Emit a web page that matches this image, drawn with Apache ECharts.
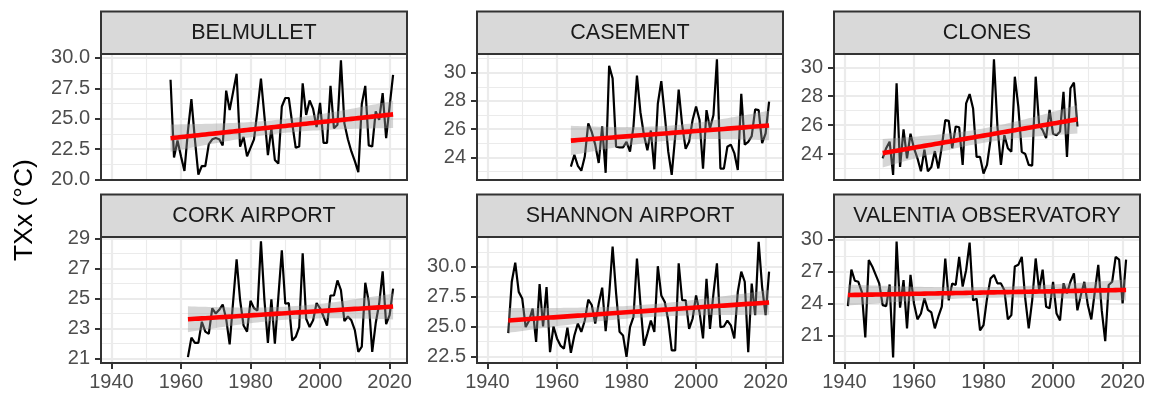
<!DOCTYPE html>
<html>
<head>
<meta charset="utf-8">
<script src="https://cdn.jsdelivr.net/npm/echarts@6/dist/echarts.min.js"></script>
<style>
  html, body { margin: 0; padding: 0; background: #fff; }
  #chart { width: 1151px; height: 394px; }
</style>
</head>
<body>
<div id="chart"></div>
<script>
const stations = ['BELMULLET', 'CASEMENT', 'CLONES', 'CORK AIRPORT', 'SHANNON AIRPORT', 'VALENTIA OBSERVATORY'];
const startYears = [1957, 1964, 1951, 1962, 1946, 1941];

const belmullet = [28.2, 21.8, 23.2, 21.9, 20.7, 24.0, 26.6, 23.3, 20.4, 21.1,
  21.1, 22.9, 23.3, 23.4, 23.3, 22.8, 27.3, 25.7, 27.2, 28.7,
  22.7, 23.5, 21.9, 22.6, 23.3, 25.7, 28.3, 25.2, 22.0, 24.2,
  21.6, 21.3, 26.0, 26.7, 26.7, 24.6, 22.6, 22.7, 27.9, 25.3,
  26.5, 25.8, 24.3, 26.3, 23.0, 23.0, 27.7, 24.2, 24.5, 29.8,
  24.6, 23.3, 22.3, 21.5, 20.6, 26.2, 27.7, 22.8, 22.7, 25.6,
  24.9, 27.1, 23.4, 26.0, 28.6];
const casement = [23.34, 24.17, 23.4, 23.05, 24.05, 26.4, 25.8, 24.9, 23.6, 26.2,
  22.9, 30.5, 29.6, 24.75, 24.7, 24.7, 25.1, 24.4, 26.2, 29.8,
  27.2, 25.6, 24.5, 25.9, 23.15, 27.8, 29.4, 27.0, 24.4, 22.75,
  25.5, 28.8, 26.3, 24.6, 25.1, 26.65, 27.6, 26.65, 23.2, 27.35,
  26.05, 27.0, 30.95, 23.2, 23.2, 24.75, 24.9, 24.3, 23.1, 28.5,
  24.9, 25.1, 25.5, 27.4, 27.35, 25.0, 25.7, 27.95];
const clones = [23.7, 24.4, 24.85, 22.55, 28.9, 23.1, 25.7, 23.7, 25.4, 24.4,
  23.7, 22.8, 24.3, 22.8, 23.1, 24.2, 23.0, 24.5, 26.35, 26.3,
  24.4, 25.9, 25.85, 23.25, 27.5, 28.15, 27.15, 23.8, 23.8, 22.65,
  23.25, 24.95, 30.55, 25.9, 23.25, 25.3, 24.4, 24.15, 29.35, 27.3,
  24.15, 24.0, 23.25, 23.2, 29.35, 26.0, 25.65, 25.1, 27.05, 25.4,
  25.3, 25.55, 28.3, 23.8, 28.55, 28.95, 25.9];
const cork = [21.1, 22.4, 22.05, 22.05, 23.45, 22.8, 22.65, 24.35, 24.0, 24.25,
  24.6, 23.65, 21.95, 24.8, 27.6, 24.9, 23.2, 22.8, 24.85, 24.35,
  24.2, 28.8, 24.9, 22.05, 24.95, 22.0, 25.1, 28.2, 24.65, 24.7,
  22.2, 22.45, 23.1, 28.0, 23.65, 23.1, 23.55, 24.7, 24.35, 23.8,
  23.2, 25.2, 25.2, 26.2, 25.55, 23.5, 23.8, 23.55, 22.9, 21.45,
  21.8, 26.05, 24.8, 21.45, 23.35, 24.65, 26.8, 23.3, 23.9, 25.65];
const shannon = [24.45, 28.75, 30.35, 27.9, 27.35, 24.95, 25.5, 26.5, 23.7, 28.55,
  25.0, 28.3, 22.85, 25.0, 24.0, 23.4, 23.15, 24.9, 22.8, 24.25,
  25.25, 24.55, 25.5, 27.25, 26.8, 25.25, 26.9, 28.25, 24.6, 27.6,
  31.7, 27.8, 24.55, 24.25, 22.45, 24.95, 25.8, 30.7, 26.9, 23.4,
  24.4, 25.5, 24.55, 30.05, 27.6, 27.05, 25.5, 23.0, 23.0, 30.3,
  27.2, 27.2, 24.8, 25.65, 27.6, 26.2, 24.0, 29.0, 24.8, 27.75,
  30.3, 24.95, 25.0, 25.5, 25.1, 24.0, 27.9, 29.6, 28.75, 22.85,
  28.6, 25.95, 32.1, 28.3, 25.95, 29.6];
const valentia = [23.75, 27.2, 26.15, 26.05, 25.1, 20.8, 28.1, 27.5, 26.7, 25.9,
  23.85, 23.75, 25.8, 18.9, 29.85, 23.6, 26.2, 21.65, 26.7, 24.0,
  22.5, 23.05, 24.5, 23.4, 23.15, 21.65, 22.75, 23.7, 28.25, 24.3,
  25.9, 25.75, 28.4, 25.6, 27.15, 29.75, 24.3, 24.45, 21.45, 21.95,
  24.45, 26.35, 26.7, 25.9, 25.9, 25.25, 22.5, 22.9, 27.5, 27.65,
  28.4, 24.45, 21.65, 24.3, 28.25, 25.25, 27.2, 23.7, 23.55, 26.05,
  23.05, 22.4, 25.9, 24.95, 26.05, 26.85, 23.35, 24.8, 26.05, 23.85,
  22.5, 25.1, 27.65, 23.35, 20.45, 25.75, 26.05, 28.4, 28.15, 24.0,
  28.15];
const seriesValues = [belmullet, casement, clones, cork, shannon, valentia];

const xTicks = [1940, 1960, 1980, 2000, 2020];
const xMinor = [1950, 1970, 1990, 2010];
const yTicks = [[20, 22.5, 25, 27.5, 30], [24, 26, 28, 30], [24, 26, 28, 30],
  [21, 23, 25, 27, 29], [22.5, 25, 27.5, 30], [21, 24, 27, 30]];
const yMinor = [[21.25, 23.75, 26.25, 28.75], [23, 25, 27, 29, 31], [23, 25, 27, 29],
  [22, 24, 26, 28], [23.75, 26.25, 28.75, 31.25], [19.5, 22.5, 25.5, 28.5]];
const yDecimals = [1, 0, 0, 0, 1, 0];
const yMin = [19.95, 22.39, 22.2, 20.71, 21.94, 18.38];
const yMax = [30.32, 31.33, 30.92, 29.09, 32.5, 30.28];

// linear fit with 95% band, like geom_smooth(method = "lm")
function fitLm(xs, ys) {
  const n = xs.length;
  const mx = xs.reduce((a, b) => a + b, 0) / n;
  const my = ys.reduce((a, b) => a + b, 0) / n;
  let sxx = 0, sxy = 0;
  for (let i = 0; i < n; i++) {
    sxx += (xs[i] - mx) * (xs[i] - mx);
    sxy += (xs[i] - mx) * (ys[i] - my);
  }
  const b = sxy / sxx, a = my - b * mx;
  let sse = 0;
  for (let i = 0; i < n; i++) sse += Math.pow(ys[i] - (a + b * xs[i]), 2);
  const s = Math.sqrt(sse / (n - 2));
  const t = 2.0;
  return xs.map(x => {
    const f = a + b * x;
    const se = s * Math.sqrt(1 / n + (x - mx) * (x - mx) / sxx);
    return [x, f, f - t * se, f + t * se];
  });
}

const FONT = '"Liberation Sans", Arial, Helvetica, sans-serif';
const lefts = [101, 477, 834];
const tops = [54, 237];
const W = 306, H = 126, STRIP = 42.5;

const chart = echarts.init(document.getElementById('chart'));
const grids = [], xAxes = [], yAxes = [], series = [], graphics = [];

stations.forEach((name, k) => {
  const col = k % 3, row = Math.floor(k / 3);
  const left = lefts[col], top = tops[row];
  const bottomRow = row === 1;
  grids.push({ left: left, top: top, width: W, height: H });

  xAxes.push({
    type: 'value', gridIndex: k, min: 1937, max: 2025,
    splitLine: { show: false },
    axisLine: { show: false, onZero: false },
    axisTick: { show: bottomRow, customValues: xTicks, length: 6, lineStyle: { color: '#333', width: 2 } },
    axisLabel: {
      show: bottomRow, customValues: xTicks, fontSize: 20, color: '#4D4D4D', fontFamily: FONT, margin: 9,
      formatter: v => String(v)
    }
  });
  yAxes.push({
    type: 'value', gridIndex: k, min: yMin[k], max: yMax[k],
    splitLine: { show: false },
    axisLine: { show: false, onZero: false },
    axisTick: { show: true, customValues: yTicks[k], length: 6, lineStyle: { color: '#333', width: 2 } },
    axisLabel: {
      customValues: yTicks[k], fontSize: 20, color: '#4D4D4D', fontFamily: FONT, margin: 11,
      formatter: v => Number(v).toFixed(yDecimals[k])
    }
  });

  const vals = seriesValues[k];
  const years = vals.map((v, i) => startYears[k] + i);
  const fit = fitLm(years, vals);

  const grid = [];
  xTicks.forEach(v => grid.push({ xAxis: v, lineStyle: { color: '#EBEBEB', width: 2.2, type: 'solid' } }));
  xMinor.forEach(v => grid.push({ xAxis: v, lineStyle: { color: '#EBEBEB', width: 1.1, type: 'solid' } }));
  yTicks[k].forEach(v => grid.push({ yAxis: v, lineStyle: { color: '#EBEBEB', width: 2.2, type: 'solid' } }));
  yMinor[k].forEach(v => grid.push({ yAxis: v, lineStyle: { color: '#EBEBEB', width: 1.1, type: 'solid' } }));

  series.push({
    type: 'line', xAxisIndex: k, yAxisIndex: k, z: 3,
    data: years.map((y, i) => [y, vals[i]]),
    showSymbol: false, silent: true,
    lineStyle: { color: '#000', width: 2.2 },
    markLine: { silent: true, symbol: 'none', z: 1, label: { show: false }, data: grid }
  });
  series.push({
    type: 'custom', xAxisIndex: k, yAxisIndex: k, z: 4, silent: true,
    data: fit,
    renderItem: function (params, api) {
      if (params.dataIndex !== 0) return null;
      const up = fit.map(p => api.coord([p[0], p[3]]));
      const lo = fit.map(p => api.coord([p[0], p[2]])).reverse();
      return { type: 'polygon', shape: { points: up.concat(lo) }, style: { fill: 'rgba(153,153,153,0.4)' } };
    }
  });
  series.push({
    type: 'line', xAxisIndex: k, yAxisIndex: k, z: 5,
    data: fit.map(p => [p[0], p[1]]),
    showSymbol: false, silent: true,
    lineStyle: { color: '#FF0000', width: 4.6 }
  });

  graphics.push({
    type: 'rect', z: 100, silent: true,
    shape: { x: left, y: top, width: W, height: H },
    style: { fill: 'none', stroke: '#333', lineWidth: 2 }
  });
  graphics.push({
    type: 'rect', z: 100, silent: true,
    shape: { x: left, y: top - STRIP, width: W, height: STRIP },
    style: { fill: '#D9D9D9', stroke: '#333', lineWidth: 2 }
  });
  graphics.push({
    type: 'text', z: 101, silent: true,
    x: left + W / 2, y: top - STRIP / 2,
    style: { text: name, fill: '#1A1A1A', font: '21.5px ' + FONT, align: 'center', verticalAlign: 'middle' }
  });
});

graphics.push({
  type: 'text', z: 101, silent: true,
  x: 25, y: 210, rotation: Math.PI / 2,
  style: { text: 'TXx (°C)', fill: '#000', font: '26.5px ' + FONT, align: 'center', verticalAlign: 'middle' }
});

chart.setOption({
  animation: false,
  backgroundColor: '#fff',
  grid: grids,
  xAxis: xAxes,
  yAxis: yAxes,
  series: series,
  graphic: graphics
});
</script>
</body>
</html>
